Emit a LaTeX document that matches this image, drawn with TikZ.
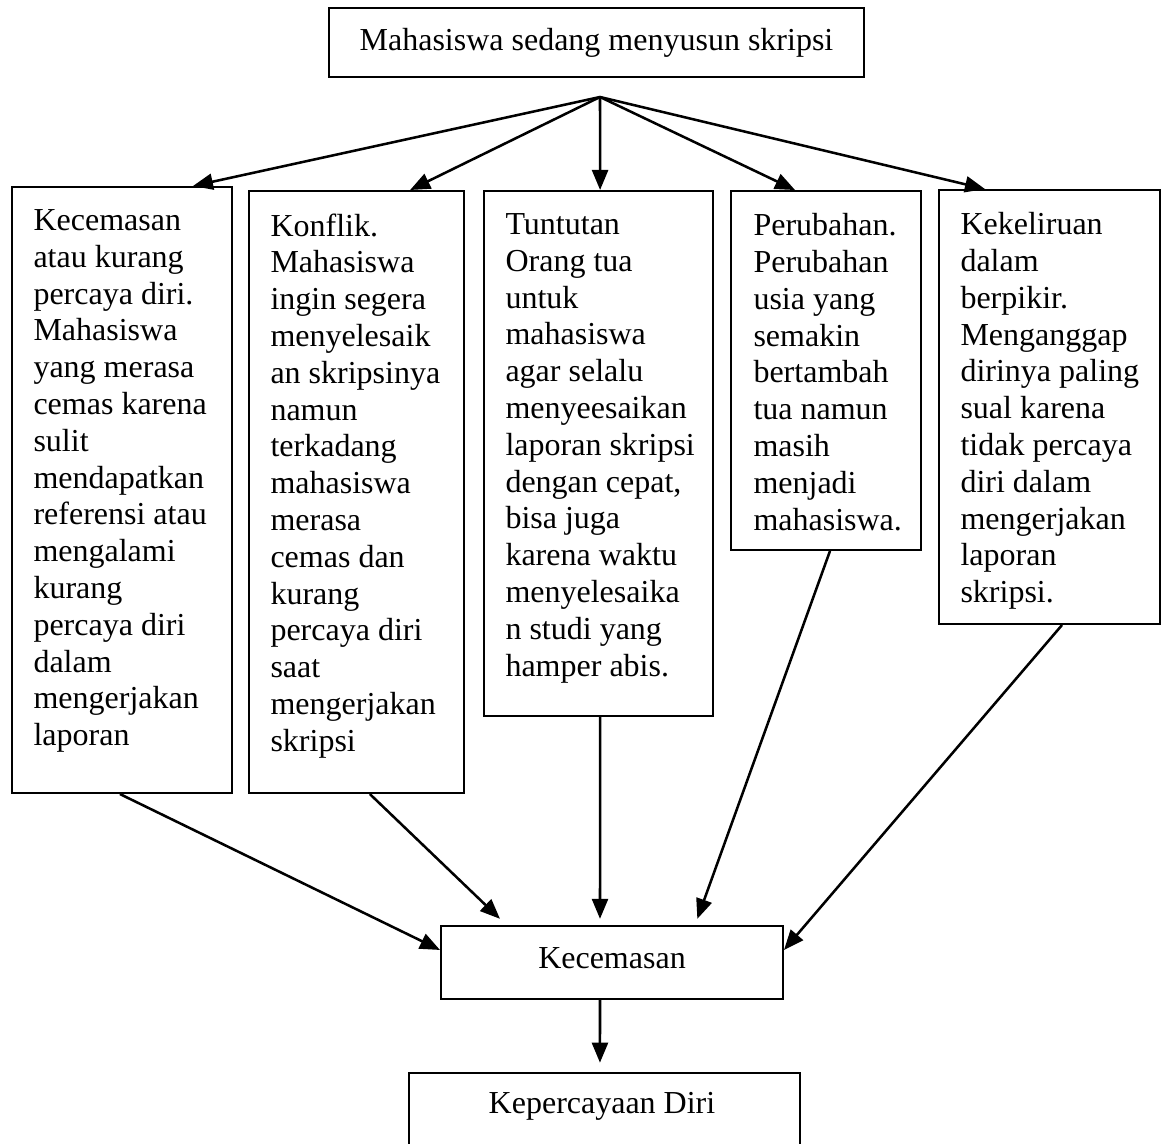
\documentclass[tikz,border=0pt]{standalone}
\usepackage{fontspec}
\setmainfont{Liberation Serif}
\usetikzlibrary{arrows.meta}
\begin{document}
\begin{tikzpicture}[x=0.375pt, y=-0.375pt,
  box/.style={draw, line width=0.75pt, inner sep=0pt},
  txt/.style={anchor=north west, inner sep=0pt, align=left, font=\fontsize{12}{13.8}\selectfont},
  ctxt/.style={inner sep=0pt, font=\fontsize{12}{13.8}\selectfont},
  arr/.style={line width=0.95pt, -{Triangle[length=7.5pt,width=6pt]}}]
\clip (0,0) rectangle (1163,1144);
\fill[white] (0,0) rectangle (1163,1144);
% top box
\node[box, minimum width=200.6pt, minimum height=25.9pt, font=\fontsize{12}{13.8}\selectfont] (top) at (596.5,42.5) {Mahasiswa sedang menyusun skripsi};
\coordinate (fan) at (600,97);
% middle boxes
\node[box, minimum width=82.5pt, minimum height=227.25pt] (b1) at (122,490) {};
\node[box, minimum width=80.6pt, minimum height=225.75pt] (b2) at (356.5,492) {};
\node[box, minimum width=85.9pt, minimum height=196.9pt] (b3) at (598.5,453.5) {};
\node[box, minimum width=71.25pt, minimum height=134.6pt] (b4) at (826,370.5) {};
\node[box, minimum width=82.9pt, minimum height=162.75pt] (b5) at (1049.5,407) {};
\node[txt] (t1) at (33,209) {Kecemasan\\atau kurang\\percaya diri.\\Mahasiswa\\yang merasa\\cemas karena\\sulit\\mendapatkan\\referensi atau\\mengalami\\kurang\\percaya diri\\dalam\\mengerjakan\\laporan};
\node[txt] (t2) at (270,213) {Konflik.\\Mahasiswa\\ingin segera\\menyelesaik\\an skripsinya\\namun\\terkadang\\mahasiswa\\merasa\\cemas dan\\kurang\\percaya diri\\saat\\mengerjakan\\skripsi};
\node[txt] (t3) at (505,213) {Tuntutan\\Orang tua\\untuk\\mahasiswa\\agar selalu\\menyeesaikan\\laporan skripsi\\dengan cepat,\\bisa juga\\karena waktu\\menyelesaika\\n studi yang\\hamper abis.};
\node[txt] (t4) at (753,213) {Perubahan.\\Perubahan\\usia yang\\semakin\\bertambah\\tua namun\\masih\\menjadi\\mahasiswa.};
\node[txt] (t5) at (960,212) {Kekeliruan\\dalam\\berpikir.\\Menganggap\\dirinya paling\\sual karena\\tidak percaya\\diri dalam\\mengerjakan\\laporan\\skripsi.};
% lower boxes
\node[box, minimum width=128.25pt, minimum height=27.4pt] (kec) at (612,962.5) {};
\node[ctxt] (kect) at (612,958) {Kecemasan};
\node[box, minimum width=146.6pt, minimum height=33pt] (kd) at (604.5,1117) {};
\node[ctxt] (kdt) at (602,1106) {Kepercayaan Diri};
% fan arrows
\draw[arr] (fan) -- ([xshift=26.6pt]b1.north);
\draw[arr] (fan) -- ([xshift=20.1pt]b2.north);
\draw[arr] (fan) -- ([xshift=0.6pt]b3.north);
\draw[arr] (fan) -- ([xshift=-11.6pt]b4.north);
\draw[arr] (fan) -- ([xshift=-24.2pt]b5.north);
% converging arrows
\draw[arr] ([xshift=-0.8pt]b1.south) -- ([yshift=4.7pt]kec.west);
\draw[arr] ([xshift=5pt]b2.south) -- ([xshift=-42pt,yshift=2.3pt]kec.north);
\draw[arr] ([xshift=0.6pt]b3.south) -- ([xshift=-4.5pt,yshift=2.3pt]kec.north);
\draw[arr] ([xshift=1.5pt]b4.south) -- ([xshift=32pt,yshift=2.3pt]kec.north);
\draw[arr] ([xshift=4.7pt]b5.south) -- ([yshift=4.7pt]kec.east);
\draw[arr] ([xshift=-4.5pt]kec.south) -- ([xshift=-1.7pt,yshift=3.5pt]kd.north);
\end{tikzpicture}
\end{document}
